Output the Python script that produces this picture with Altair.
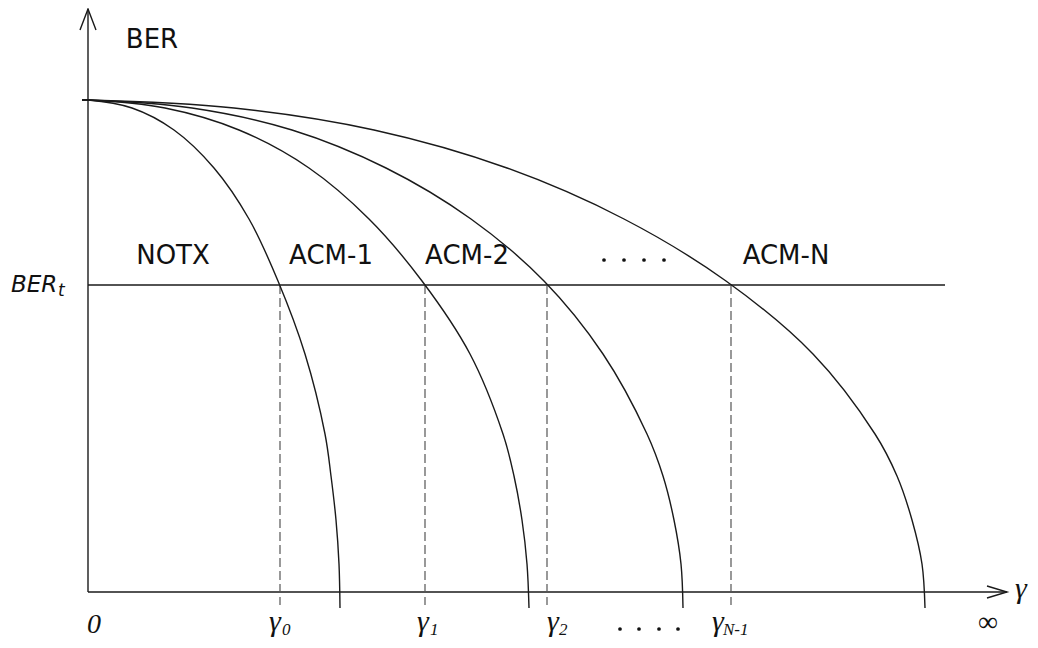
import altair as alt
import pandas as pd

# ---------------- data (schematic units) ----------------
ber_levels = [492, 492, 484, 462, 424, 373, 311, 238, 158, 116, 72, 28, -16]
curve_names = ["c0", "c1", "c2", "cN"]
curve0_x = [-6, 0, 44, 86, 126, 161, 190, 217, 237, 243, 248, 251, 252]
curve1_x = [-6, 0, 77, 151, 221, 281, 334, 382, 415, 426, 434, 439, 441]
curve2_x = [-6, 0, 104, 204, 298, 383, 456, 515, 559, 575, 586, 593, 595]
curveN_x = [-6, 0, 146, 286, 419, 536, 638, 725, 787, 809, 824, 834, 837]

ber_t = 307
ber_t_end = 857
gamma_x = [192, 337, 459, 643]
gamma_subs = ["0", "1", "2", "N-1"]
gamma_glyph_x = [181, 329, 459, 624]
gamma_sub_x = [194, 342, 471, 635]

region_names = ["NOTX", "ACM-1", "ACM-2", "ACM-N"]
region_x = [85, 243, 379, 698]
region_y = 328

dots_top_x = [516, 536, 556, 576]
dots_top_y = 332
dots_bot_x = [532, 551, 571, 590]
dots_bot_y = -37

x_axis_end = 919
y_axis_end = 583

# ---------------- tables ----------------
curves = []
for name, xs_ in zip(curve_names, [curve0_x, curve1_x, curve2_x, curveN_x]):
    for i, (xv, yv) in enumerate(zip(xs_, ber_levels)):
        curves.append({"curve": name, "i": i, "x": xv, "y": yv})
curves = pd.DataFrame(curves)

solid = pd.DataFrame([
    {"x": 0, "x2": x_axis_end, "y": 0, "y2": 0},
    {"x": 0, "x2": 0, "y": 0, "y2": y_axis_end},
    {"x": 0, "x2": ber_t_end, "y": ber_t, "y2": ber_t},
])
dashed = pd.DataFrame([{"x": g, "x2": g, "y": ber_t, "y2": -13} for g in gamma_x])

arrows = pd.DataFrame([
    {"a": "y", "i": 0, "x": -8, "y": 562},
    {"a": "y", "i": 1, "x": 0, "y": y_axis_end},
    {"a": "y", "i": 2, "x": 8, "y": 562},
    {"a": "x", "i": 0, "x": 899, "y": 6},
    {"a": "x", "i": 1, "x": x_axis_end, "y": 0},
    {"a": "x", "i": 2, "x": 899, "y": -6},
])

dots = pd.DataFrame([{"x": v, "y": dots_top_y} for v in dots_top_x] +
                    [{"x": v, "y": dots_bot_y} for v in dots_bot_x])

regions = pd.DataFrame({"x": region_x, "y": [region_y] * 4, "text": region_names})
ber_lbl = pd.DataFrame([{"x": 64, "y": 544, "text": "BER"}])
bert_main = pd.DataFrame([{"x": -77, "y": 300, "text": "BER"}])
bert_sub = pd.DataFrame([{"x": -30, "y": 296, "text": "t"}])
gam_main = pd.DataFrame([{"x": gx, "y": -39, "text": "γ"} for gx in gamma_glyph_x] +
                        [{"x": 927, "y": -6, "text": "γ"}])
gam_sub = pd.DataFrame([{"x": sx, "y": -43, "text": s} for sx, s in zip(gamma_sub_x, gamma_subs)])
zero_lbl = pd.DataFrame([{"x": 6, "y": -41, "text": "0"}])
inf_lbl = pd.DataFrame([{"x": 900, "y": -39, "text": "∞"}])

# ---------------- chart ----------------
xs = alt.Scale(domain=[-80, 942], nice=False, zero=False)
ys = alt.Scale(domain=[-48, 584], nice=False, zero=False)
INK = "#1a1a1a"


def X(f="x"):
    return alt.X(f"{f}:Q", scale=xs, axis=None)


def Y(f="y"):
    return alt.Y(f"{f}:Q", scale=ys, axis=None)


curve_layer = alt.Chart(curves).mark_line(
    color=INK, strokeWidth=1.4, interpolate="catmull-rom"
).encode(x=X(), y=Y(), detail="curve:N", order="i:Q")

solid_layer = alt.Chart(solid).mark_rule(color=INK, strokeWidth=1.4).encode(
    x=X(), x2="x2:Q", y=Y(), y2="y2:Q")
dashed_layer = alt.Chart(dashed).mark_rule(
    color="#555555", strokeWidth=1.2, strokeDash=[9, 4]
).encode(x=X(), x2="x2:Q", y=Y(), y2="y2:Q")

arrow_layer = alt.Chart(arrows).mark_line(color=INK, strokeWidth=1.4).encode(
    x=X(), y=Y(), detail="a:N", order="i:Q")

dot_layer = alt.Chart(dots).mark_circle(color="#111111", size=14, opacity=1).encode(x=X(), y=Y())


def text_layer(df, font, size, style="normal", align="left"):
    return alt.Chart(df).mark_text(
        font=font, fontSize=size, fontStyle=style, align=align,
        baseline="alphabetic", color="#111111"
    ).encode(x=X(), y=Y(), text="text:N")


texts = [
    text_layer(regions, "DejaVu Sans", 26, align="center"),
    text_layer(ber_lbl, "DejaVu Sans", 26, align="center"),
    text_layer(bert_main, "DejaVu Sans", 23, style="italic"),
    text_layer(bert_sub, "DejaVu Sans", 17, style="italic"),
    text_layer(gam_main, "Liberation Serif", 30, style="italic"),
    text_layer(gam_sub, "Liberation Serif", 17, style="italic"),
    text_layer(zero_lbl, "Liberation Serif", 28, style="italic", align="center"),
    text_layer(inf_lbl, "Liberation Serif", 28, align="center"),
]

chart = alt.layer(
    solid_layer, dashed_layer, curve_layer, arrow_layer, dot_layer, *texts
).properties(
    width=1022, height=632, padding=0,
    autosize=alt.AutoSizeParams(type="none"),
).configure(background="white").configure_view(stroke=None, strokeWidth=0)

chart.save("out.html", embed_options={"renderer": "svg", "actions": False})
